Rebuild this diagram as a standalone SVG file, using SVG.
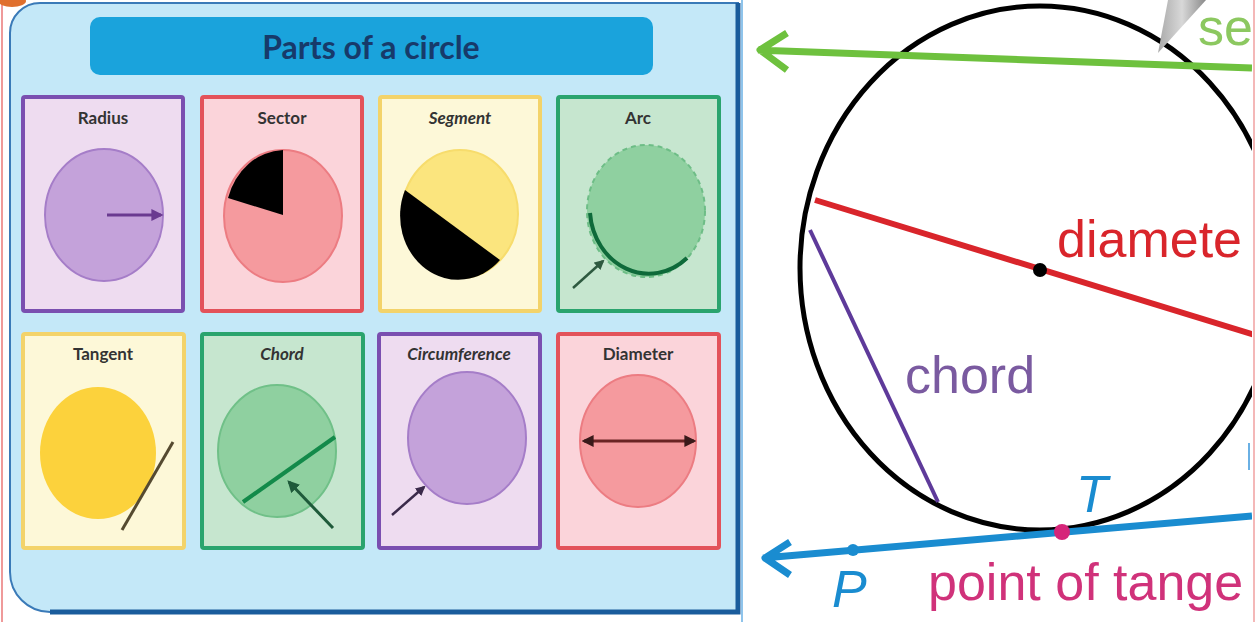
<svg xmlns="http://www.w3.org/2000/svg" width="1258" height="622" viewBox="0 0 1258 622">
<style>
.lbl{font-family:Lato,"DejaVu Sans",sans-serif;font-weight:700;font-size:17px;fill:#333;text-anchor:middle}
.card{stroke-width:4}
.pur{fill:#eedcf0;stroke:#7a4fb0}
.red{fill:#fbd4da;stroke:#e3525a}
.yel{fill:#fdf8d8;stroke:#f3d36a}
.grn{fill:#c6e6cf;stroke:#2aa46e}
.big{font-family:"Liberation Sans",Arial,sans-serif;font-size:52px}
</style>
<defs>
<marker id="ah" viewBox="0 0 10 10" refX="8" refY="5" markerWidth="4" markerHeight="4" orient="auto-start-reverse"><path d="M0,0 L10,5 L0,10 Z" fill="context-stroke"/></marker>
<marker id="ahd" viewBox="0 0 10 10" refX="8" refY="5" markerWidth="4" markerHeight="4" orient="auto-start-reverse"><path d="M0,0 L10,5 L0,10 Z" fill="#3a1a1a"/></marker>
<linearGradient id="pencil" x1="0" y1="0" x2="1" y2="0"><stop offset="0" stop-color="#a9a9a9"/><stop offset="0.5" stop-color="#d8d8d8"/><stop offset="1" stop-color="#8a8a8a"/></linearGradient>
<clipPath id="rp"><rect x="742" y="0" width="510" height="622"/></clipPath>
</defs>
<rect width="1258" height="622" fill="#fff"/>
<line x1="2" y1="0" x2="2" y2="622" stroke="#ef9a9a" stroke-width="2"/>
<ellipse cx="12" cy="1" rx="14" ry="6" fill="#e0702e"/>

<g id="panel">
<path d="M40,3 H738 V612 H50 A40,40 0 0 1 10,572 V33 A30,30 0 0 1 40,3 Z" fill="#c4e8f8" stroke="#3a7ab8" stroke-width="2"/>
<path d="M738,3 V612 H50" fill="none" stroke="#1a5c9c" stroke-width="5"/>
</g>
<g id="title">
<rect x="90" y="17" width="563" height="58" rx="10" fill="#1aa3dc"/>
<text x="371" y="59" font-family="Lato,'DejaVu Sans',sans-serif" font-weight="700" font-size="32" fill="#173a6a" text-anchor="middle">Parts of a circle</text>
</g>

<g id="card-radius">
<rect class="card pur" x="23" y="97" width="160" height="214" rx="2"/>
<text class="lbl" x="103" y="124">Radius</text>
<ellipse cx="104" cy="215" rx="59" ry="66" fill="#c4a2da" stroke="#a57dc8" stroke-width="2"/>
<line x1="107" y1="215" x2="161" y2="215" stroke="#6a3a90" stroke-width="3" marker-end="url(#ah)"/>
</g>
<g id="card-sector">
<rect class="card red" x="202" y="97" width="160" height="214" rx="2"/>
<text class="lbl" x="282" y="124">Sector</text>
<ellipse cx="283" cy="216" rx="59" ry="66" fill="#f59a9e" stroke="#ec7c82" stroke-width="2"/>
<path d="M283,215 L283,150 A59,66 0 0 0 228,198 Z" fill="#000"/>
</g>
<g id="card-segment">
<rect class="card yel" x="380" y="97" width="160" height="214" rx="2"/>
<text class="lbl" x="460" y="124" font-style="italic">Segment</text>
<ellipse cx="460" cy="214" rx="58" ry="64" fill="#fbe57e" stroke="#f7dc6c" stroke-width="2"/>
<path d="M405,190 L500,260 A58,64 0 0 1 405,190 Z" fill="#000"/>
</g>
<g id="card-arc">
<rect class="card grn" x="558" y="97" width="161" height="214" rx="2"/>
<text class="lbl" x="638" y="124">Arc</text>
<ellipse cx="646" cy="211" rx="59" ry="66" fill="#8fd0a0" stroke="#6dbd86" stroke-width="2" stroke-dasharray="5,4"/>
<path d="M590,213 A59,66 0 0 0 687,258" fill="none" stroke="#0e6a3a" stroke-width="4"/>
<line x1="573" y1="288" x2="603" y2="261" stroke="#2e5a40" stroke-width="2.5" marker-end="url(#ah)"/>
</g>

<g id="card-tangent">
<rect class="card yel" x="23" y="334" width="161" height="214" rx="2"/>
<text class="lbl" x="103" y="360">Tangent</text>
<ellipse cx="98" cy="453" rx="58" ry="66" fill="#fcd23c"/>
<line x1="122" y1="530" x2="173" y2="442" stroke="#554a30" stroke-width="3"/>
</g>
<g id="card-chord">
<rect class="card grn" x="202" y="334" width="161" height="214" rx="2"/>
<text class="lbl" x="282" y="360" font-style="italic">Chord</text>
<ellipse cx="277" cy="451" rx="59" ry="66" fill="#8fd0a0" stroke="#70c088" stroke-width="2"/>
<line x1="243" y1="502" x2="335" y2="437" stroke="#138a4a" stroke-width="4"/>
<line x1="333" y1="528" x2="289" y2="482" stroke="#1e5a3a" stroke-width="3" marker-end="url(#ah)"/>
</g>
<g id="card-circumference">
<rect class="card pur" x="379" y="334" width="161" height="214" rx="2"/>
<text class="lbl" x="459" y="360" font-size="15" font-style="italic">Circumference</text>
<ellipse cx="467" cy="438" rx="59" ry="66" fill="#c4a2da" stroke="#a57dc8" stroke-width="2"/>
<line x1="392" y1="515" x2="424" y2="487" stroke="#3a2a4a" stroke-width="2.5" marker-end="url(#ah)"/>
</g>
<g id="card-diameter">
<rect class="card red" x="558" y="334" width="161" height="214" rx="2"/>
<text class="lbl" x="638" y="360">Diameter</text>
<ellipse cx="638" cy="441" rx="58" ry="66" fill="#f59a9e" stroke="#ec7c82" stroke-width="2"/>
<line x1="584" y1="441" x2="694" y2="441" stroke="#6a2424" stroke-width="3" marker-start="url(#ahd)" marker-end="url(#ahd)"/>
</g>

<line x1="742" y1="0" x2="742" y2="622" stroke="#6ab0e4" stroke-width="1.5"/>
<line x1="1254" y1="0" x2="1254" y2="622" stroke="#f0a0a0" stroke-width="1.5"/>

<g id="right" clip-path="url(#rp)">
<g id="circle"><ellipse cx="1040" cy="268" rx="240" ry="262" fill="none" stroke="#000" stroke-width="5"/></g>
<g id="connectors">
<path d="M758,50 L1252,68 M787,33 L760,50 L787,70" fill="none" stroke="#6ec13e" stroke-width="7" stroke-linejoin="round"/>
<line x1="815" y1="200" x2="1258" y2="336" stroke="#d9252b" stroke-width="6"/>
<line x1="810" y1="230" x2="938" y2="502" stroke="#5e3a9a" stroke-width="4"/>
<path d="M763,558 L1252,516 M790,542 L765,558 L790,575" fill="none" stroke="#1a8cd0" stroke-width="7" stroke-linejoin="round"/>
<line x1="1249" y1="443" x2="1249" y2="470" stroke="#6ab0e4" stroke-width="2"/>
</g>
<g id="center-dot"><circle cx="1040" cy="270" r="7" fill="#000"/></g>
<g id="point-P"><circle cx="853" cy="550" r="6" fill="#1a8cd0"/></g>
<g id="point-T"><circle cx="1062" cy="532" r="8" fill="#d6267a"/></g>
<polygon points="1158,53 1168,0 1206,0" fill="url(#pencil)"/>
</g>
<g id="labels">
<text class="big" x="832" y="607" font-style="italic" fill="#1a8cd0">P</text>
<text class="big" x="1076" y="512" font-size="48" font-style="italic" fill="#1a8cd0">T</text>
<text class="big" x="1057" y="257" fill="#d9252b">diamete</text>
<text class="big" x="905" y="393" fill="#7a5aa0">chord</text>
<text class="big" x="928" y="600" fill="#d0327a">point of tange</text>
<text class="big" x="1198" y="45" font-size="36" fill="#8cc860">se</text>
</g>
</svg>
